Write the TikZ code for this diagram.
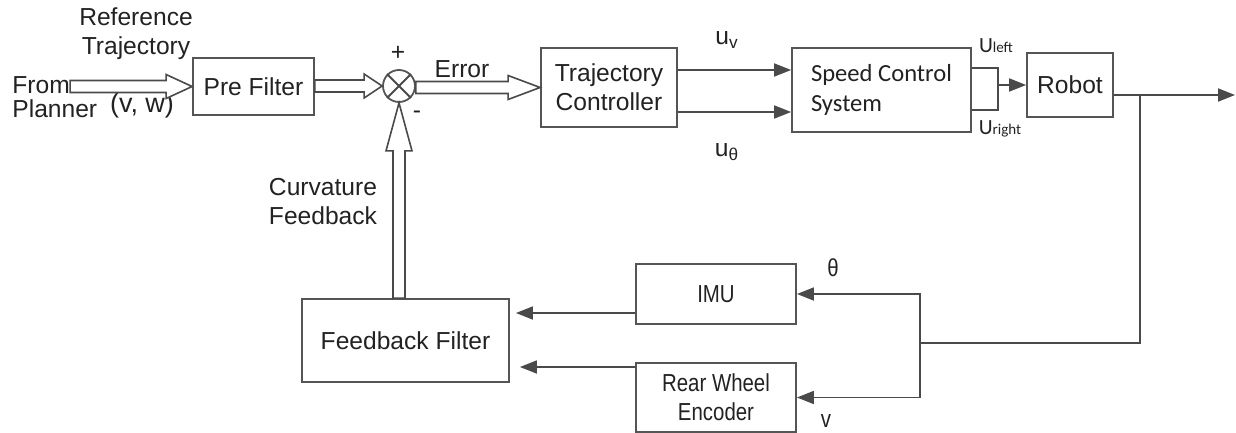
\documentclass[tikz,border=0pt]{standalone}
\usepackage{fontspec}
\setmainfont{Liberation Sans}
\newfontfamily\calibrifont{Carlito}
\newfontfamily\narrowfont{Liberation Sans}[FakeStretch=0.83]
\usetikzlibrary{arrows.meta,calc}
\definecolor{boxedge}{HTML}{555555}
\definecolor{wire}{HTML}{4A4A4A}
\definecolor{inkgrey}{HTML}{222222}

% hollow (outlined) arrows: from, to, head length
\newcommand{\hollowright}[3]{%
  \draw[hollow] let \p1=(#1), \p2=(#2) in
    (\x1,\y2+3pt) -- (\x2-#3,\y2+3pt) -- (\x2-#3,\y2+6pt) -- (\x2,\y2)
    -- (\x2-#3,\y2-6pt) -- (\x2-#3,\y2-3pt) -- (\x1,\y2-3pt) -- cycle;}
\newcommand{\hollowup}[3]{%
  \draw[hollow] let \p1=(#1), \p2=(#2) in
    (\x2-3pt,\y1) -- (\x2-3pt,\y2-#3) -- (\x2-6.5pt,\y2-#3) -- (\x2,\y2)
    -- (\x2+6.5pt,\y2-#3) -- (\x2+3pt,\y2-#3) -- (\x2+3pt,\y1) -- cycle;}

\begin{document}
\begin{tikzpicture}[
  x=0.5pt, y=-0.5pt,
  font=\fontsize{12.3}{14.5}\selectfont,
  text=inkgrey,
  block/.style={draw=boxedge, line width=0.9pt, inner sep=0pt, align=center},
  sig/.style={draw=wire, line width=0.9pt, -{Triangle[length=8.5pt,width=6.5pt]}},
  wireline/.style={draw=wire, line width=0.9pt},
  hollow/.style={draw=wire, line width=0.8pt, fill=white},
  lbl/.style={inner sep=0pt},
  narrowtext/.style={font=\narrowfont\fontsize{12.3}{14.5}\selectfont},
  calib/.style={font=\calibrifont\fontsize{12.3}{14.8}\selectfont}
]
\useasboundingbox (0,0) rectangle (1236,433);

% Forward path
\node[block, minimum width=60.5pt, minimum height=28.5pt] (pre) at (253.5,86.5) {Pre Filter};
\node[circle, draw=boxedge, line width=0.9pt, minimum size=16pt, inner sep=0pt] (sum) at (399,86) {};
\draw[wireline] (sum.45) -- (sum.225) (sum.135) -- (sum.-45);
\node[block, minimum width=68pt, minimum height=39.5pt] (tc) at (609,87.5) {Trajectory\\Controller};
\node[block, calib, align=left, minimum width=89.5pt, minimum height=42pt] (scs) at (881.5,90) {Speed Control\\System};
\node[block, minimum width=43pt, minimum height=32pt] (robot) at (1070,85) {Robot};

% Feedback path
\node[block, narrowtext, minimum width=80pt, minimum height=30pt] (imu) at (716,294) {IMU};
\node[block, narrowtext, minimum width=80pt, minimum height=34.5pt] (enc) at (716,397.5) {Rear Wheel\\Encoder};
\node[block, minimum width=103.5pt, minimum height=41.5pt] (ff) at (405.5,340.5) {Feedback Filter};

% Labels
\node[lbl, align=center] (reftraj) at (136,34) {Reference\\Trajectory};
\node[lbl, anchor=west] (from) at (12,85) {From};
\node[lbl, anchor=west] (planner) at (12,109) {Planner};
\node[lbl, font=\fontsize{13.5}{16}\selectfont] (vw) at (142,106) {(v, w)};
\node[lbl] (plus) at (398,53) {+};
\node[lbl] (minus) at (417,115) {-};
\node[lbl] (err) at (462,69) {Error};
\node[lbl] (uv) at (727,40) {u\textsubscript{v}};
\node[lbl] (uth) at (727,152) {u\textsubscript{θ}};
\node[lbl, font=\calibrifont\fontsize{10.8}{12}\selectfont] (uleft) at (996,46) {U{\fontsize{7.5}{9}\selectfont left}};
\node[lbl, font=\calibrifont\fontsize{10.8}{12}\selectfont] (uright) at (1000,129) {U{\fontsize{7.5}{9}\selectfont right}};
\node[lbl, align=center] (curv) at (323,202) {Curvature\\Feedback};
\node[lbl, narrowtext] (theta) at (833,268) {θ};
\node[lbl, narrowtext] (vel) at (826,421) {v};

% Wires
\coordinate (ul) at (998,68);
\coordinate (ur) at (998,110);
\coordinate (jn) at (998,85);
\coordinate (tap) at (1140,95);
\coordinate (out) at (1235,95);
\coordinate (split) at (920,343);

\hollowright{from.east}{pre.west}{13pt}
\hollowright{pre.east}{sum.west}{9pt}
\hollowright{sum.east}{tc.west}{16pt}
\hollowup{ff.north}{sum.south}{24pt}

\draw[sig] ([yshift=8.75pt]tc.east) -- ([yshift=8.75pt]tc.east -| scs.west);
\draw[sig] ([yshift=-12.25pt]tc.east) -- ([yshift=-12.25pt]tc.east -| scs.west);
\draw[wireline] (scs.east |- ul) -- (ul) -- (ur) -- (scs.east |- ur);
\draw[sig] (jn) -- (robot.west);
\draw[sig] (robot.east |- tap) -- (out);
\draw[wireline] (tap) |- (split);
\draw[sig] (split) |- (imu.east);
\draw[sig] (split) |- (enc.east);
\draw[sig, shorten >=3pt] ([yshift=-9.5pt]imu.west) -- ([yshift=-9.5pt]imu.west -| ff.east);
\draw[sig, shorten >=5pt] ([yshift=15.25pt]enc.west) -- ([yshift=15.25pt]enc.west -| ff.east);

\end{tikzpicture}
\end{document}
